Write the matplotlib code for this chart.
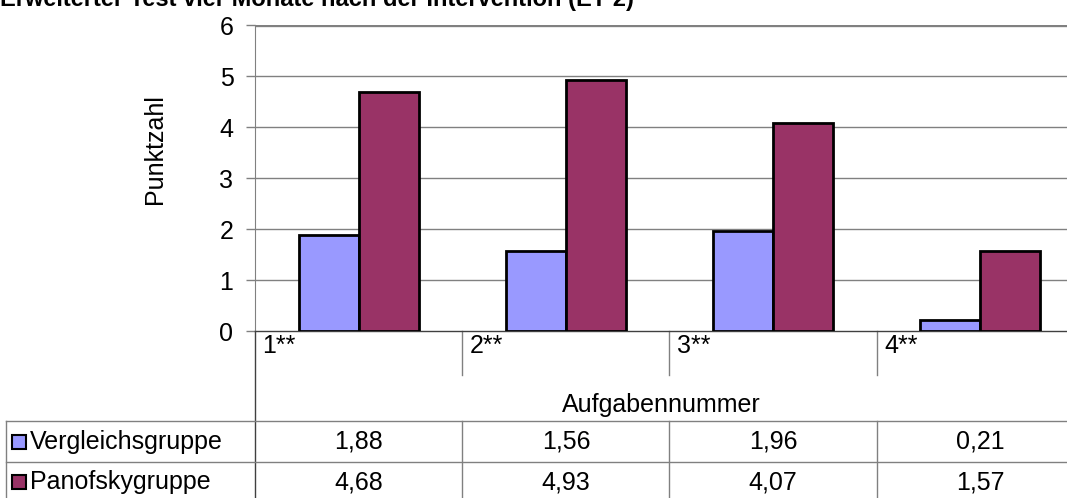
import matplotlib
matplotlib.use('Agg')
import matplotlib.pyplot as plt
from matplotlib.lines import Line2D

W, H = 1067, 498

title = 'Erweiterter Test vier Monate nach der Intervention (ET 2)'
categories = ['1**', '2**', '3**', '4**']
series_names = ['Vergleichsgruppe', 'Panofskygruppe']
vergleich = [1.88, 1.56, 1.96, 0.21]
panofsky = [4.68, 4.93, 4.07, 1.57]
colors = ['#9999FF', '#993366']

plt.rcParams['font.family'] = ['Liberation Sans', 'DejaVu Sans']
FS = 18


def fx(px):
    return px / W


def fy(py):
    return 1 - py / H


def fmt(v):
    return f'{v:.2f}'.replace('.', ',')


fig = plt.figure(figsize=(W / 100, H / 100), dpi=100)
fig.patch.set_facecolor('white')

# plot area runs past the right edge of the figure
ax = fig.add_axes([fx(255), fy(331), (1084 - 255) / W, 306 / H])
ax.set_xlim(-0.5, 3.5)
ax.set_ylim(0, 6)

bar_w = 0.29
xs = range(len(categories))
for values, color, off in ((vergleich, colors[0], -bar_w / 2), (panofsky, colors[1], bar_w / 2)):
    ax.bar([x + off for x in xs], values, width=bar_w, color=color,
           edgecolor='black', linewidth=2, zorder=3)

# gridlines
for y in range(1, 6):
    ax.axhline(y, color='#808080', linewidth=1, zorder=1)
ax.axhline(6, color='#808080', linewidth=2.4, zorder=1)

for side in ('top', 'right'):
    ax.spines[side].set_visible(False)
ax.spines['left'].set_color('#808080')
ax.spines['bottom'].set_color('#404040')
ax.spines['bottom'].set_linewidth(1)

ax.set_yticks(range(0, 7))
ax.set_xticks([])
ax.tick_params(axis='y', length=6.5, width=1, color='#808080', pad=9, labelsize=FS)
ax.set_ylabel('Punktzahl', fontsize=FS)
ax.yaxis.set_label_coords(-0.106, 0.595)

trans = ax.get_xaxis_transform()
bottom = -(498 - 331) / 306

# category separators and labels under the axis
ax.plot([-0.5, -0.5], [0, bottom], color='#404040', linewidth=1, transform=trans, clip_on=False)
for i, cat in enumerate(categories):
    if i > 0:
        ax.plot([i - 0.5, i - 0.5], [0, -0.144], color='#808080', linewidth=1,
                transform=trans, clip_on=False)
        ax.plot([i - 0.5, i - 0.5], [-(421 - 331) / 306, bottom], color='#808080',
                linewidth=1, transform=trans, clip_on=False)
    ax.text(i - 0.5 + 0.035, -0.05, cat, transform=trans, ha='left', va='center', fontsize=FS)

ax.text(0.49, -(405 - 331) / 306, 'Aufgabennummer', transform=ax.transAxes,
        ha='center', va='center', fontsize=FS)

# data table
for py in (421, 462):
    fig.add_artist(Line2D([fx(6), 1], [fy(py), fy(py)], color='#808080', linewidth=1))
fig.add_artist(Line2D([fx(6), fx(6)], [fy(421), 0], color='#808080', linewidth=1))

row_y = [441.5, 482]
for name, color, values, py in zip(series_names, colors, (vergleich, panofsky), row_y):
    fig.add_artist(Line2D([fx(19)], [fy(py)], marker='s', markersize=10,
                          markerfacecolor=color, markeredgecolor='black', markeredgewidth=1.5))
    fig.text(fx(30), fy(py), name, ha='left', va='center', fontsize=FS)
    for i, v in enumerate(values):
        ax.text(i, -(py - 331) / 306, fmt(v), transform=trans, ha='center', va='center', fontsize=FS)

fig.text(0, fy(6), title, ha='left', va='baseline', fontsize=17, fontweight='bold')

fig.savefig('out.png', dpi=100)
